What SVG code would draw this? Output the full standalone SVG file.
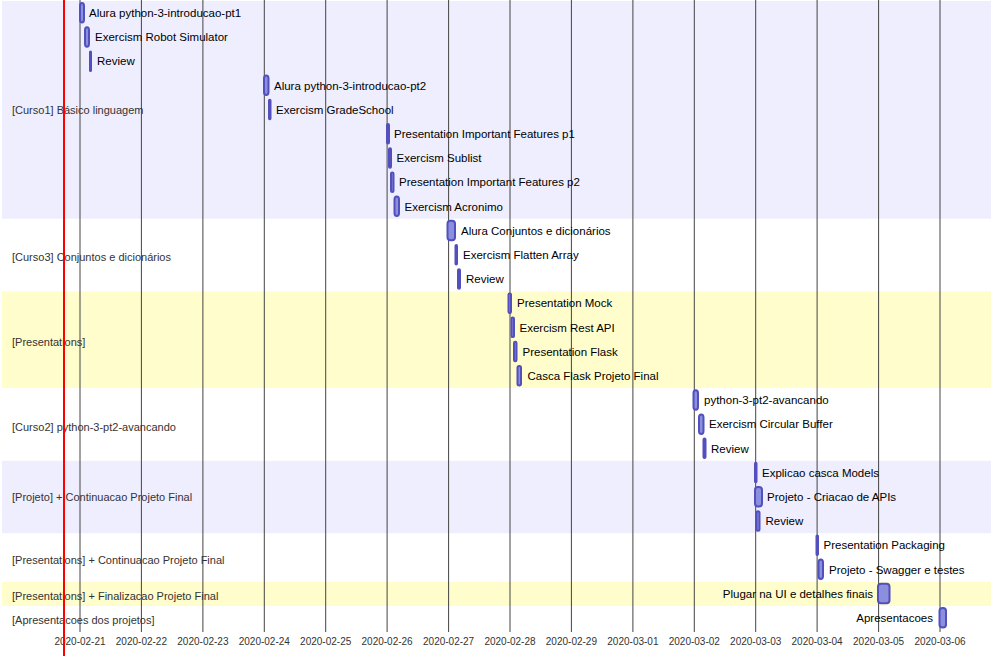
<svg xmlns="http://www.w3.org/2000/svg" width="991" height="656" viewBox="0 0 991 656">
<style>
.sec0{fill:#eeeeff}
.sec1{fill:#ffffff}
.sec2{fill:#fffdcc}
.grid line{stroke:#444;stroke-width:1}
.tick{font-family:"Liberation Sans",Arial,sans-serif;font-size:10px;fill:#333;text-anchor:middle}
.stitle{font-family:"Liberation Sans",Arial,sans-serif;font-size:11px;fill:#333}
.task rect{fill:#8a90dd;stroke:#534fbc;stroke-width:2}
.task text{font-family:"Liberation Sans",Arial,sans-serif;font-size:11.5px;fill:#000}
.task text.end{text-anchor:end}
</style>
<rect width="991" height="656" fill="#ffffff"/>
<g id="sections">
<rect class="sec0" x="2" y="1" width="989" height="217.8"/>
<rect class="sec1" x="2" y="218.8" width="989" height="72.6"/>
<rect class="sec2" x="2" y="291.4" width="989" height="96.8"/>
<rect class="sec1" x="2" y="388.2" width="989" height="72.6"/>
<rect class="sec0" x="2" y="460.8" width="989" height="72.6"/>
<rect class="sec1" x="2" y="533.4" width="989" height="48.4"/>
<rect class="sec2" x="2" y="581.8" width="989" height="24.2"/>
</g>
<g id="grid" class="grid">
<line x1="80" y1="0" x2="80" y2="632"/>
<line x1="141.4" y1="0" x2="141.4" y2="632"/>
<line x1="202.9" y1="0" x2="202.9" y2="632"/>
<line x1="264.3" y1="0" x2="264.3" y2="632"/>
<line x1="325.7" y1="0" x2="325.7" y2="632"/>
<line x1="387.1" y1="0" x2="387.1" y2="632"/>
<line x1="448.6" y1="0" x2="448.6" y2="632"/>
<line x1="510" y1="0" x2="510" y2="632"/>
<line x1="571.4" y1="0" x2="571.4" y2="632"/>
<line x1="632.9" y1="0" x2="632.9" y2="632"/>
<line x1="694.3" y1="0" x2="694.3" y2="632"/>
<line x1="755.7" y1="0" x2="755.7" y2="632"/>
<line x1="817.1" y1="0" x2="817.1" y2="632"/>
<line x1="878.6" y1="0" x2="878.6" y2="632"/>
<line x1="940" y1="0" x2="940" y2="632"/>
</g>
<g id="axis">
<text class="tick" x="80" y="645">2020-02-21</text>
<text class="tick" x="141.4" y="645">2020-02-22</text>
<text class="tick" x="202.9" y="645">2020-02-23</text>
<text class="tick" x="264.3" y="645">2020-02-24</text>
<text class="tick" x="325.7" y="645">2020-02-25</text>
<text class="tick" x="387.1" y="645">2020-02-26</text>
<text class="tick" x="448.6" y="645">2020-02-27</text>
<text class="tick" x="510" y="645">2020-02-28</text>
<text class="tick" x="571.4" y="645">2020-02-29</text>
<text class="tick" x="632.9" y="645">2020-03-01</text>
<text class="tick" x="694.3" y="645">2020-03-02</text>
<text class="tick" x="755.7" y="645">2020-03-03</text>
<text class="tick" x="817.1" y="645">2020-03-04</text>
<text class="tick" x="878.6" y="645">2020-03-05</text>
<text class="tick" x="940" y="645">2020-03-06</text>
</g>
<g id="section-titles">
<text class="stitle" x="12" y="114">[Curso1] Básico linguagem</text>
<text class="stitle" x="12" y="260.5">[Curso3] Conjuntos e dicionários</text>
<text class="stitle" x="12" y="345.5">[Presentations]</text>
<text class="stitle" x="12" y="430.5">[Curso2] python-3-pt2-avancando</text>
<text class="stitle" x="12" y="501">[Projeto] + Continuacao Projeto Final</text>
<text class="stitle" x="12" y="563.5">[Presentations] + Continuacao Projeto Final</text>
<text class="stitle" x="12" y="600">[Presentations] + Finalizacao Projeto Final</text>
<text class="stitle" x="12" y="624">[Apresentacoes dos projetos]</text>
</g>
<g id="tasks">
<g id="t1" class="task"><rect x="80" y="3" width="4" height="19.5" rx="3"/><text x="89" y="17">Alura python-3-introducao-pt1</text></g>
<g id="t2" class="task"><rect x="85" y="27.2" width="4" height="19.5" rx="3"/><text x="95" y="41.2">Exercism Robot Simulator</text></g>
<g id="t3" class="task"><rect x="90" y="51.4" width="1" height="19.5" rx="0.5"/><text x="97" y="65.4">Review</text></g>
<g id="t4" class="task"><rect x="264" y="75.6" width="4.5" height="19.5" rx="3"/><text x="274" y="89.6">Alura python-3-introducao-pt2</text></g>
<g id="t5" class="task"><rect x="269" y="99.8" width="1.5" height="19.5" rx="0.7"/><text x="276" y="113.8">Exercism GradeSchool</text></g>
<g id="t6" class="task"><rect x="387" y="124" width="2" height="19.5" rx="1"/><text x="394" y="138">Presentation Important Features p1</text></g>
<g id="t7" class="task"><rect x="389" y="148.2" width="2" height="19.5" rx="1"/><text x="396.5" y="162.2">Exercism Sublist</text></g>
<g id="t8" class="task"><rect x="391" y="172.4" width="2.5" height="19.5" rx="1.2"/><text x="399" y="186.4">Presentation Important Features p2</text></g>
<g id="t9" class="task"><rect x="394.5" y="196.6" width="4.5" height="19.5" rx="3"/><text x="404.5" y="210.6">Exercism Acronimo</text></g>
<g id="t10" class="task"><rect x="447.5" y="220.8" width="7.5" height="19.5" rx="3"/><text x="461" y="234.8">Alura Conjuntos e dicionários</text></g>
<g id="t11" class="task"><rect x="455.5" y="245" width="1.5" height="19.5" rx="0.7"/><text x="463" y="259">Exercism Flatten Array</text></g>
<g id="t12" class="task"><rect x="458" y="269.2" width="2" height="19.5" rx="1"/><text x="466" y="283.2">Review</text></g>
<g id="t13" class="task"><rect x="508.5" y="293.4" width="2.5" height="19.5" rx="1.2"/><text x="517" y="307.4">Presentation Mock</text></g>
<g id="t14" class="task"><rect x="511.5" y="317.6" width="2.5" height="19.5" rx="1.2"/><text x="519.5" y="331.6">Exercism Rest API</text></g>
<g id="t15" class="task"><rect x="514" y="341.8" width="2.5" height="19.5" rx="1.2"/><text x="522.5" y="355.8">Presentation Flask</text></g>
<g id="t16" class="task"><rect x="517.5" y="366" width="3.5" height="19.5" rx="1.7"/><text x="527.5" y="380">Casca Flask Projeto Final</text></g>
<g id="t17" class="task"><rect x="693.5" y="390.2" width="4.5" height="19.5" rx="3"/><text x="704" y="404.2">python-3-pt2-avancando</text></g>
<g id="t18" class="task"><rect x="699" y="414.4" width="4.5" height="19.5" rx="3"/><text x="709" y="428.4">Exercism Circular Buffer</text></g>
<g id="t19" class="task"><rect x="703.5" y="438.6" width="2" height="19.5" rx="1"/><text x="711" y="452.6">Review</text></g>
<g id="t20" class="task"><rect x="755" y="462.8" width="1.5" height="19.5" rx="0.7"/><text x="762" y="476.8">Explicao casca Models</text></g>
<g id="t21" class="task"><rect x="755" y="487" width="7" height="19.5" rx="3"/><text x="767" y="501">Projeto - Criacao de APIs</text></g>
<g id="t22" class="task"><rect x="756.5" y="511.2" width="3" height="19.5" rx="1.5"/><text x="765.5" y="525.2">Review</text></g>
<g id="t23" class="task"><rect x="816.5" y="535.4" width="1.5" height="19.5" rx="0.7"/><text x="823.5" y="549.4">Presentation Packaging</text></g>
<g id="t24" class="task"><rect x="818.5" y="559.6" width="4.5" height="19.5" rx="3"/><text x="829" y="573.6">Projeto - Swagger e testes</text></g>
<g id="t25" class="task"><rect x="878" y="583.8" width="11.5" height="19.5" rx="3"/><text class="end" x="873" y="597.8">Plugar na UI e detalhes finais</text></g>
<g id="t26" class="task"><rect x="939.5" y="608" width="6.5" height="19.5" rx="3"/><text class="end" x="933" y="622">Apresentacoes</text></g>
</g>
<g id="today">
<line x1="64" y1="0" x2="64" y2="656" stroke="#ff0000" stroke-width="2"/>
</g>
</svg>
